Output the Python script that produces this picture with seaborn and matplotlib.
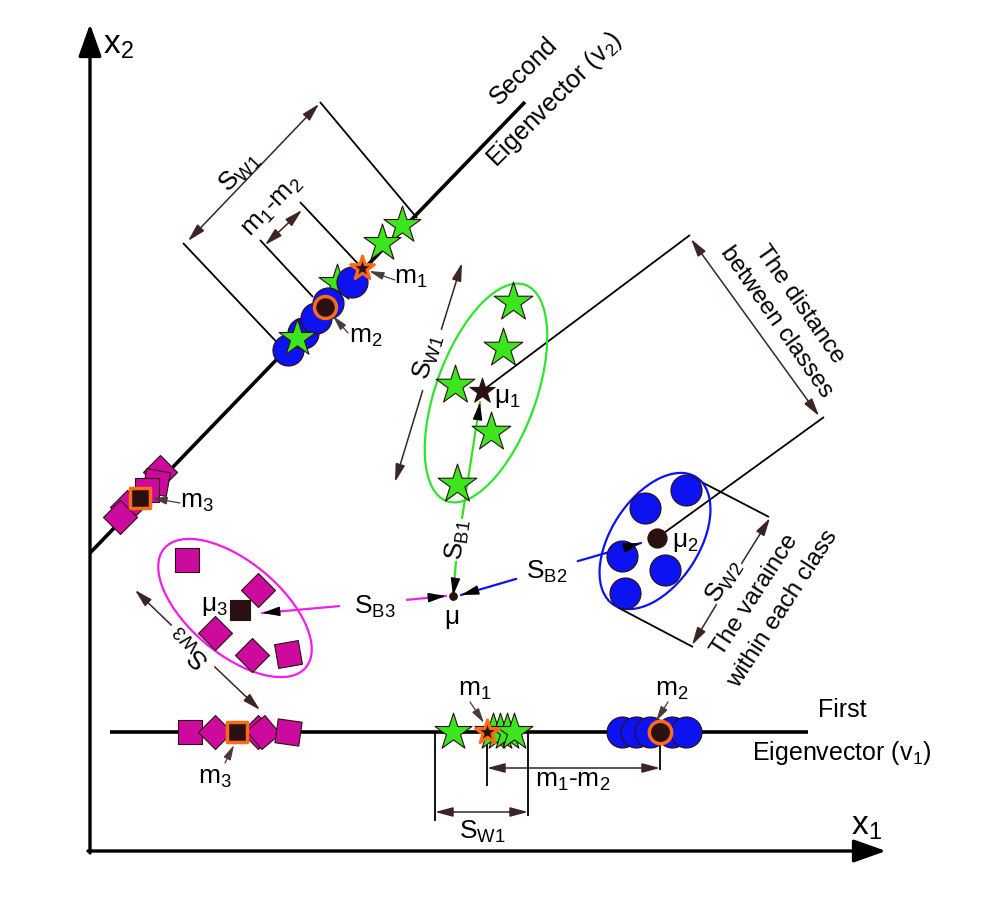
import numpy as np
import matplotlib.pyplot as plt
from matplotlib.patches import Ellipse
import seaborn as sns

# canvas is in pixel units, y grows downwards
W, H = 1002, 900

GREEN = "#3ce61e"
BLUE = "#0c12f2"
MAGENTA = "#cc0a9e"
DARK = "#2a1010"
ORANGE = "#ff6a13"
BROWN = "#3b2424"

# class 1 (stars), class 2 (circles), class 3 (squares)
c1_x = [513, 503, 455, 491, 457]
c1_y = [302, 348, 385, 432, 484]
c2_x = [686, 645, 622, 665, 625]
c2_y = [490, 508, 556, 570, 593]
c3_x = [187, 258, 215, 252, 288]
c3_y = [560, 590, 633, 655, 654]
c3_rot = [0, 45, 45, 45, 10]
mu1 = (482, 391)
mu2 = (657, 538)
mu3 = (240, 610)
mu = (453, 596)

# projections on the second eigenvector (diagonal)
p2_star_x = [402, 382, 337, 297]
p2_star_y = [225, 243, 283, 338]
p2_star_z = [3, 3, 2, 5]
p2_circ_x = [288, 303, 316, 328, 352]
p2_circ_y = [350, 333, 318, 303, 282]
p2_sq_x = [160, 156, 147, 127, 120]
p2_sq_y = [472, 482, 490, 507, 517]
p2_sq_rot = [45, -10, 0, 45, 45]
m1_v2 = (362, 268)
m2_v2 = (325, 307)
m3_v2 = (140, 498)

# projections on the first eigenvector (horizontal)
v1_y = 732
p1_star_x = [453, 493, 500, 507, 514]
p1_circ_x = [622, 636, 650, 672, 686]
p1_sq_x = [190, 215, 258, 263, 288]
p1_sq_rot = [0, 45, 45, 40, -8]
m1_v1, m2_v1, m3_v1 = 487, 660, 237

sns.set_theme(style="white")
plt.rcParams["font.family"] = ["Liberation Sans", "DejaVu Sans"]
plt.rcParams["mathtext.fontset"] = "custom"
plt.rcParams["mathtext.rm"] = "Liberation Sans"
plt.rcParams["mathtext.it"] = "Liberation Sans"

fig = plt.figure(figsize=(W / 100, H / 100), dpi=100)
ax = fig.add_axes([0, 0, 1, 1])
ax.set_xlim(0, W)
ax.set_ylim(H, 0)
ax.axis("off")

STAR = 860
CIRC = 500
SQ = 600


def pts(x, y, marker, s, face, edge=DARK, lw=0.8, z=3):
    sns.scatterplot(x=list(x), y=list(y), marker=marker, s=s, color=face,
                    edgecolor=edge, linewidth=lw, zorder=z, ax=ax, legend=False)


def squares(x, y, rot, s=SQ, face=MAGENTA, z=3):
    for xi, yi, r in zip(x, y, rot):
        pts([xi], [yi], (4, 0, 45 + r), s, face, z=z)


def arrow(p_from, p_to, color=BROWN, lw=1.1, style="-|>", ms=18, hw=0.16, hl=0.6, z=6):
    ax.annotate("", xy=p_to, xytext=p_from, zorder=z,
                arrowprops=dict(arrowstyle=f"{style},head_length={hl},head_width={hw}",
                                color=color, lw=lw, shrinkA=0, shrinkB=0,
                                mutation_scale=ms))


def pointer(p_from, p_to):
    arrow(p_from, p_to, color="#4a3a3a", lw=0.9, hw=0.13, hl=0.5)


def dim(p1, p2, gap_at=None, gap=0, color=BROWN):
    p1, p2 = np.array(p1, float), np.array(p2, float)
    if gap_at is None:
        arrow(p1, p2, color=color, style="<|-|>")
        return
    c = np.array(gap_at, float)
    u = (p2 - p1) / np.linalg.norm(p2 - p1)
    arrow(c - u * gap, p1, color=color)
    arrow(c + u * gap, p2, color=color)


def between(p1, p2, gap_at, gap, color):
    # coloured line with black heads at both ends and a gap for the label
    p1, p2 = np.array(p1, float), np.array(p2, float)
    c = np.array(gap_at, float)
    u = (p2 - p1) / np.linalg.norm(p2 - p1)
    for a, b in [(p1, c - u * gap), (c + u * gap, p2)]:
        ax.plot([a[0], b[0]], [a[1], b[1]], color=color, lw=1.6, zorder=2)
    arrow(p1 + u * 15, p1, color="black", lw=1.0)
    arrow(p2 - u * 15, p2, color="black", lw=1.0)


def line(p1, p2, lw=1.3, color="black", z=1):
    ax.plot([p1[0], p2[0]], [p1[1], p2[1]], color=color, lw=lw, zorder=z,
            solid_capstyle="butt")


def label(x, y, s, size=19, rot=0):
    ax.text(x, y, s, fontsize=size, rotation=rot, rotation_mode="anchor",
            ha="center", va="center", color="black", zorder=8)


# coordinate axes
arrow((90, 853), (90, 24), color="black", lw=2.4, ms=22, hw=0.32, hl=0.9)
arrow((88, 851), (886, 851), color="black", lw=2.4, ms=22, hw=0.32, hl=0.9)
label(118, 45, r"x$\mathregular{_2}$", size=24)
label(866, 826, r"x$\mathregular{_1}$", size=24)

# eigenvectors
line((90, 553), (525, 102), lw=2.6)
line((110, v1_y), (808, v1_y), lw=2.6)
label(524, 71, "Second", size=18, rot=45)
label(555, 100, r"Eigenvector (v$\mathregular{_2}$)", size=18, rot=45)
label(842, 710, "First", size=18)
label(842, 753, r"Eigenvector (v$\mathregular{_1}$)", size=18)

# class ellipses
ax.add_patch(Ellipse((486, 393), 100, 230, angle=20, fill=False, ec="#2ee52e", lw=1.6, zorder=2))
ax.add_patch(Ellipse((655, 541), 88, 152, angle=33, fill=False, ec=BLUE, lw=1.6, zorder=2))
ax.add_patch(Ellipse((235, 608), 185, 92, angle=40, fill=False, ec="#f01ee6", lw=1.6, zorder=2))

# class samples and means
pts(c1_x, c1_y, "*", STAR, GREEN)
pts(c2_x, c2_y, "o", CIRC, BLUE)
squares(c3_x, c3_y, c3_rot)
pts([mu1[0]], [mu1[1]], "*", 360, DARK, z=4)
pts([mu2[0]], [mu2[1]], "o", 190, DARK, z=4)
squares([mu3[0]], [mu3[1]], [0], s=420, face=DARK, z=4)
pts([mu[0]], [mu[1]], "o", 30, DARK, z=7)
label(507, 398, r"$\mathregular{μ_1}$")
label(685, 542, r"$\mathregular{μ_2}$")
label(214, 606, r"$\mathregular{μ_3}$")
label(452, 617, "μ")

# between-class scatter
between(mu, (480, 402), (459, 540), 22, "#38e020")
label(458, 540, r"$\mathregular{S_{B1}}$", rot=82)
between((461, 595), (641, 543), (547, 570), 32, BLUE)
label(547, 572, r"$\mathregular{S_{B2}}$")
between((446, 596), (262, 613), (373, 603), 34, "#f01ee6")
label(375, 607, r"$\mathregular{S_{B3}}$")

# within-class spreads
dim((462, 263), (395, 482), gap_at=(432, 360), gap=32)
label(428, 357, r"$\mathregular{S_{W1}}$", rot=73)
line((690, 476), (769, 517))
line((617, 607), (693, 647))
dim((770, 518), (692, 645), gap_at=(729, 584), gap=24)
label(724, 581, r"$\mathregular{S_{W2}}$", rot=58)
label(755, 595, "The varaince", size=17.5, rot=57)
label(783, 609, "within each class", size=17.5, rot=57)
dim((135, 590), (260, 710), gap_at=(193, 646), gap=30)
label(190, 647, r"$\mathregular{S_{W3}}$", rot=136)

# distance between classes
line(mu1, (690, 235))
line(mu2, (824, 417))
dim((691, 239), (819, 416))
label(800, 304, "The distance", size=17.5, rot=-55)
label(776, 322, "between classes", size=17.5, rot=-55)

# projections on the diagonal
line((417, 218), (320, 102))
line((287, 353), (183, 243))
dim((188, 241), (319, 104))
label(240, 172, r"$\mathregular{S_{W1}}$", rot=46)
line(m1_v2, (300, 202))
line((313, 297), (260, 240))
dim((265, 245), (302, 210))
label(273, 207, r"$\mathregular{m_1}$-$\mathregular{m_2}$", rot=46)

for xs, ys, zs in zip(p2_star_x, p2_star_y, p2_star_z):
    pts([xs], [ys], "*", STAR - 80, GREEN, z=zs)
pts(p2_circ_x, p2_circ_y, "o", CIRC, BLUE, z=4)
squares(p2_sq_x, p2_sq_y, p2_sq_rot)
pts([m1_v2[0]], [m1_v2[1]], "*", 320, DARK, edge=ORANGE, lw=2.2, z=6)
pts([m2_v2[0]], [m2_v2[1]], "o", 250, DARK, edge=ORANGE, lw=2.5, z=6)
squares([m3_v2[0]], [m3_v2[1]], [0], s=380, face=DARK, z=5)
pts([m3_v2[0]], [m3_v2[1]], (4, 0, 45), 380, "none", edge=ORANGE, lw=2.5, z=6)
label(411, 278, r"$\mathregular{m_1}$")
pointer((395, 280), (369, 271))
label(366, 337, r"$\mathregular{m_2}$")
pointer((348, 333), (333, 316))
label(197, 502, r"$\mathregular{m_3}$")
pointer((180, 503), (152, 498))

# projections on the horizontal eigenvector
line((435, v1_y), (435, 821))
line((528, v1_y), (528, 816))
line((m1_v1, v1_y), (m1_v1, 786))
line((m2_v1, v1_y), (m2_v1, 770))
dim((m1_v1, 768), (m2_v1, 768))
label(573, 781, r"$\mathregular{m_1}$-$\mathregular{m_2}$")
dim((435, 812), (528, 812))
label(482, 832, r"$\mathregular{S_{W1}}$")

pts(p1_star_x, [v1_y] * len(p1_star_x), "*", STAR - 80, GREEN)
pts(p1_circ_x, [v1_y] * len(p1_circ_x), "o", CIRC, BLUE)
squares(p1_sq_x, [v1_y] * len(p1_sq_x), p1_sq_rot)
pts([m1_v1], [v1_y], "*", 320, DARK, edge=ORANGE, lw=2.2, z=6)
pts([m2_v1], [v1_y], "o", 260, DARK, edge=ORANGE, lw=2.5, z=6)
squares([m3_v1], [v1_y], [0], s=380, face=DARK, z=5)
pts([m3_v1], [v1_y], (4, 0, 45), 380, "none", edge=ORANGE, lw=2.5, z=6)
label(475, 690, r"$\mathregular{m_1}$")
pointer((470, 702), (484, 723))
label(672, 690, r"$\mathregular{m_2}$")
pointer((668, 702), (656, 721))
label(215, 778, r"$\mathregular{m_3}$")
pointer((225, 763), (234, 745))

fig.savefig("out.png", dpi=100)
